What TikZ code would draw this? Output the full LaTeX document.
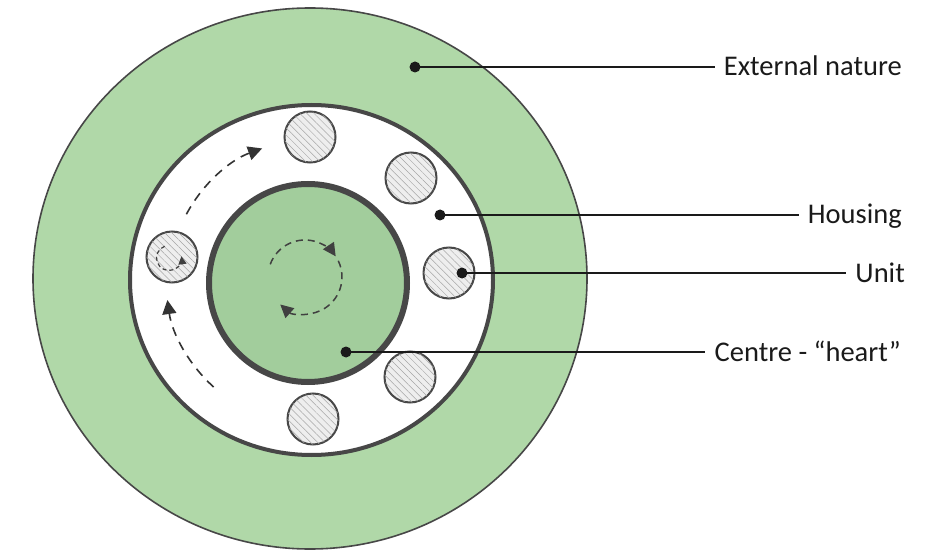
\documentclass[tikz,border=0pt]{standalone}
\usepackage{fontspec}
\setmainfont{Carlito}
\usetikzlibrary{arrows.meta,patterns.meta,calc}
\definecolor{outergreen}{HTML}{B0D8A8}
\definecolor{innergreen}{HTML}{A2CD9C}
\definecolor{ink}{HTML}{474747}
\definecolor{unitfill}{HTML}{EEEEEE}
\definecolor{labelink}{HTML}{1A1A1A}
\begin{document}
\begin{tikzpicture}[x=1pt,y=-1pt,
  unitcirc/.style={circle, draw=ink, line width=2pt, fill=unitfill, minimum size=51pt, inner sep=0pt,
    postaction={pattern={Lines[angle=-45,distance=5pt,line width=0.5pt]}, pattern color=black!35}},
  flow/.style={draw=black!80, line width=1.6pt, dash pattern=on 9pt off 7pt, -{Triangle[length=14pt,width=14pt]}},
  innerflow/.style={draw=black!75, line width=1.5pt, dash pattern=on 7pt off 5pt, -{Triangle[length=13pt,width=13pt]}},
  smallflow/.style={draw=black!75, line width=1.2pt, dash pattern=on 4pt off 3pt, -{Triangle[length=8pt,width=8pt]}},
  leaderdot/.style={circle, fill=labelink, inner sep=0pt, minimum size=11pt},
  leader/.style={line width=2.8pt, draw=labelink},
  lbl/.style={anchor=base east, inner sep=0pt, font=\fontsize{28.5}{32}\selectfont, text=labelink}
]
\useasboundingbox (0,0) rectangle (945,556);
% outer green (external nature)
\draw[fill=outergreen, draw=ink, line width=1.6pt] (310,278.5) ellipse [x radius=277, y radius=270.5];
% housing ring
\draw[fill=white, draw=ink, line width=4pt] (311.5,280) ellipse [x radius=181.5, y radius=175];
% centre
\draw[fill=innergreen, draw=ink, line width=6pt] (308,283) circle [radius=99];
% units
\node[unitcirc] (u1) at (310,137) {};
\node[unitcirc] (u2) at (411,178) {};
\node[unitcirc] (u3) at (449,273) {};
\node[unitcirc] (u4) at (410,377) {};
\node[unitcirc] (u5) at (313,419) {};
\node[unitcirc] (u6) at (172,257) {};
% flow arrows in housing
\draw[flow] (310,280) ++(208:140) arc [start angle=208, end angle=250, radius=140];
\draw[flow] (310,280) ++(132:144) arc [start angle=132, end angle=172, radius=144];
% centre circulation
\draw[innerflow] (305,277) ++(200:37) arc [start angle=200, end angle=326, radius=37];
\draw[innerflow] (305,277) ++(334:37) arc [start angle=334, end angle=492, radius=37];
% unit circulation
\draw[smallflow] (169,258) ++(250:12.5) arc [start angle=250, end angle=-8, radius=12.5];
% labels
\node[lbl] (tExt) at (902,76) {External nature};
\node[lbl] (tHou) at (902,224) {Housing};
\node[lbl] (tUni) at (905,282) {Unit};
\node[lbl] (tCen) at (901,361) {Centre - “heart”};
\node[leaderdot] (dExt) at (415,67) {};
\node[leaderdot] (dHou) at (440,215) {};
\node[leaderdot] (dUni) at (462,273) {};
\node[leaderdot] (dCen) at (346,352) {};
\draw[leader] (dExt.center) -- ([xshift=-9pt]dExt -| tExt.west);
\draw[leader] (dHou.center) -- ([xshift=-9pt]dHou -| tHou.west);
\draw[leader] (dUni.center) -- ([xshift=-9pt]dUni -| tUni.west);
\draw[leader] (dCen.center) -- ([xshift=-9pt]dCen -| tCen.west);
\end{tikzpicture}
\end{document}
